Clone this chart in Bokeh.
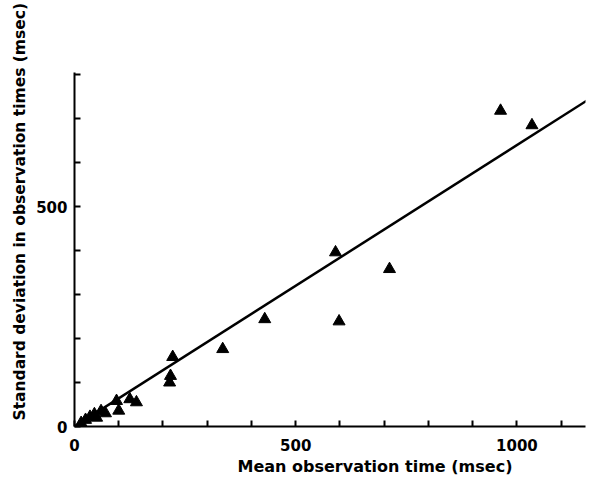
from bokeh.plotting import figure
from bokeh.models import Range1d, FixedTicker, Title
from bokeh.embed import file_html
from bokeh.resources import INLINE

# Data
mean_time = [15, 25, 35, 45, 50, 60, 70, 95, 100, 125, 140, 215, 217, 222, 335, 430, 590, 598, 712, 963, 1034]
sd_time = [8, 15, 22, 28, 20, 35, 30, 58, 36, 62, 55, 100, 115, 158, 176, 244, 396, 239, 358, 718, 685]
fit_x = [0, 1165]
fit_slope = 0.64
fit_y = [v * fit_slope for v in fit_x]

x_ticks = list(range(0, 1200, 100))
y_ticks = list(range(0, 900, 100))
x_labels = {0: "0", 500: "500", 1000: "1000"}
y_labels = {0: "0", 500: "500"}

FONT = "DejaVu Sans"

p = figure(width=588, height=478, output_backend="svg", toolbar_location=None,
           x_range=Range1d(0, 1155), y_range=Range1d(0, 805),
           min_border_left=74, min_border_right=3, min_border_top=72, min_border_bottom=52)
p.outline_line_color = None
p.xgrid.visible = False
p.ygrid.visible = False
p.background_fill_color = "white"

p.line(fit_x, fit_y, line_color="black", line_width=2.5)
p.scatter(mean_time, sd_time, marker="triangle", size=12, fill_color="black", line_color="black")

for ax, ticks, labels in ((p.xaxis[0], x_ticks, x_labels), (p.yaxis[0], y_ticks, y_labels)):
    ax.ticker = FixedTicker(ticks=ticks)
    ax.major_label_overrides = {t: labels.get(t, "") for t in ticks}
    ax.major_tick_in = 6
    ax.major_tick_out = 0
    ax.minor_tick_in = 0
    ax.minor_tick_out = 0
    ax.axis_line_width = 2
    ax.major_tick_line_width = 2
    ax.axis_line_color = "black"
    ax.major_tick_line_color = "black"
    ax.major_label_text_font = FONT
    ax.major_label_text_font_style = "bold"
    ax.major_label_text_font_size = "15px"
    ax.major_label_text_color = "black"

p.xaxis[0].major_label_standoff = 12
p.yaxis[0].major_label_standoff = 7

p.add_layout(Title(text="Mean observation time (msec)", align="left", offset=163,
                   text_font=FONT, text_font_style="bold", text_font_size="16px",
                   text_color="black", standoff=2), "below")
p.add_layout(Title(text="Standard deviation in observation times (msec)", align="left",
                   offset=6, text_font=FONT, text_font_style="bold",
                   text_font_size="15.5px", text_color="black"), "left")

open("out.html", "w").write(file_html(p, INLINE))
